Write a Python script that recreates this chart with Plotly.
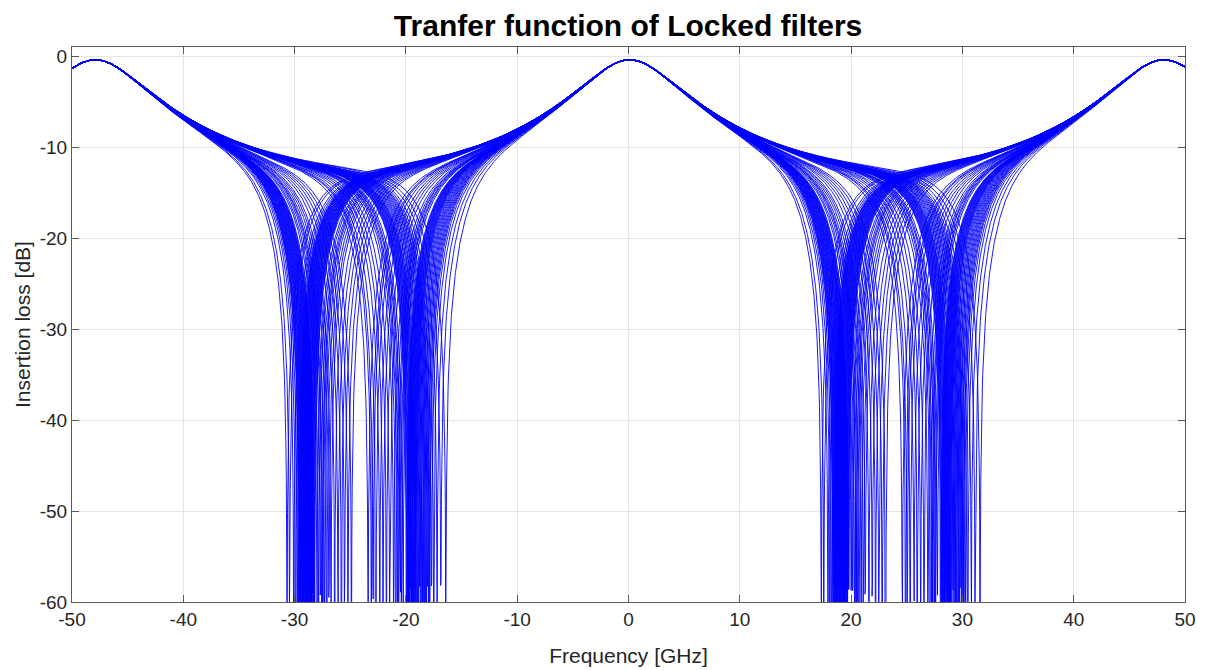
import numpy as np
import plotly.graph_objects as go

# ---- data ----
# filter model parameters
FSR_GHZ = 48.0          # free spectral range (peaks at ~-48, 0, +48 GHz)
CENTER_GHZ = 0.1        # passband centre
RING_F = 12.8           # coefficient of finesse of the pass-band ring
NOTCH_W2 = 0.07         # notch width parameter
PEAK_DB = -0.4          # insertion loss at the passband peak

# notch frequency (GHz, folded into -32..-16) of each locked filter
notch_group_a = [-30.68, -30.45, -30.08, -29.90, -29.75,
                 -29.63, -29.58, -29.53, -29.48, -29.43, -29.38, -29.33, -29.28,
                 -29.23, -29.18, -29.13, -29.08, -29.03, -28.98, -28.93, -28.88,
                 -28.83, -28.78, -28.73, -28.68, -28.63, -28.58, -28.53, -28.48,
                 -28.43, -28.38, -28.33, -28.27, -28.20,
                 -27.99, -27.85, -27.68, -27.55, -27.45, -27.30, -27.10, -26.91,
                 -26.73, -26.40, -26.10, -25.80, -25.51, -25.20, -24.89]
notch_group_b = [-23.40, -23.10, -22.95, -22.69, -22.35, -22.05, -21.75, -21.45,
                 -21.10, -20.90, -20.75, -20.65, -20.50, -20.40, -20.25,
                 -19.95, -19.89, -19.83, -19.77, -19.71, -19.65, -19.59, -19.53,
                 -19.47, -19.41, -19.35, -19.29, -19.23, -19.17, -19.11, -19.05,
                 -18.95, -18.85, -18.75, -18.65, -18.55, -18.45, -18.35, -18.25,
                 -18.15, -18.05, -17.95, -17.85, -17.70, -17.50, -17.20, -16.86,
                 -16.41]

x_ticks = [-50, -40, -30, -20, -10, 0, 10, 20, 30, 40, 50]
y_ticks = [-60, -50, -40, -30, -20, -10, 0]

freq = np.round(np.linspace(-50.0, 50.0, 2857), 4)


def transfer_db(f, fn):
    s = np.sin(np.pi * (f - CENTER_GHZ) / FSR_GHZ) ** 2
    p = 1.0 / (1.0 + RING_F * s)
    sk = np.sin(np.pi * (f - fn) / FSR_GHZ) ** 2
    p = p * sk / (sk + NOTCH_W2) * (1.0 + NOTCH_W2)
    return 10.0 * np.log10(np.maximum(p, 1e-30))


fig = go.Figure()
center_mask = np.abs(freq) < 6
for fn in notch_group_a + notch_group_b:
    db = transfer_db(freq, fn)
    db = db - db[center_mask].max() + PEAK_DB
    fig.add_trace(go.Scatter(x=freq, y=np.round(db, 3), mode="lines",
                             line=dict(color="#0000FF", width=0.9),
                             showlegend=False, hoverinfo="skip"))

FONT = "Liberation Sans, Arial, sans-serif"
axis_common = dict(
    showline=True, linecolor="#5a5a5a", linewidth=1, mirror="ticks",
    ticks="inside", ticklen=7, tickcolor="#5a5a5a", tickwidth=1,
    showgrid=True, gridcolor="#e4e4e4", gridwidth=1, zeroline=False,
    automargin=False,
    tickfont=dict(family=FONT, size=19, color="#262626"),
)

fig.update_layout(
    width=1216, height=670,
    margin=dict(l=72, r=31, t=47, b=68),
    paper_bgcolor="white", plot_bgcolor="white",
    title=dict(text="<b>Tranfer function of Locked filters</b>",
               x=0.5165, xanchor="center", y=0.962, yanchor="middle",
               font=dict(family=FONT, size=30, color="black")),
    xaxis=dict(range=[-50, 50], tickvals=x_ticks,
               ticktext=[str(v) for v in x_ticks],
               title=dict(text="Frequency [GHz]", standoff=19,
                          font=dict(family=FONT, size=21, color="#262626")),
               **axis_common),
    yaxis=dict(range=[-60, 1], tickvals=y_ticks,
               ticktext=[str(v) for v in y_ticks],
               title=dict(text="Insertion loss [dB]", standoff=3,
                          font=dict(family=FONT, size=21, color="#262626")),
               **axis_common),
)

fig.write_html("out.html")
